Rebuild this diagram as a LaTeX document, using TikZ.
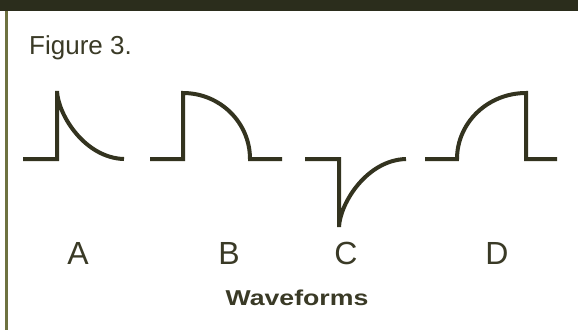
\documentclass[tikz,border=0pt]{standalone}
\usepackage{fontspec}
\setmainfont{Liberation Sans}
\definecolor{ink}{HTML}{33331F}
\definecolor{txt}{HTML}{3A3A26}
\definecolor{bar}{HTML}{2B2D1C}
\definecolor{edge}{HTML}{6E7240}
\tikzset{
  wave/.style={draw=ink, line width=4pt, line join=miter},
  letter/.style={text=txt, inner sep=0pt, anchor=base, font=\fontsize{32}{34}\selectfont},
}
\begin{document}
\begin{tikzpicture}[x=1pt,y=-1pt]
\useasboundingbox[fill=white] (0,0) rectangle (578,330);
% frame
\fill[bar] (0,0) rectangle (578,11);
\fill[edge] (5,11) rectangle (8,330);
% title
\node[text=txt, inner sep=0pt, anchor=base west, font=\fontsize{26}{28}\selectfont] (title) at (29,54) {Figure 3.};
% waveform A
\draw[wave] (23,159) -- (57,159) -- (57,91) .. controls (58,115) and (85,158) .. (124,159);
% waveform B
\draw[wave] (150,159) -- (183,159) -- (183,93) .. controls (220,93) and (250,122.5) .. (250,159) -- (282,159);
% waveform C
\draw[wave] (305,159) -- (339,159) -- (339,227) .. controls (340,203) and (367,160) .. (406,159);
% waveform D
\draw[wave] (425,159) -- (457,159) .. controls (457,122.5) and (488,93) .. (526,93) -- (526,159) -- (557,159);
% labels
\node[letter] (la) at (78,264) {A};
\node[letter] (lb) at (229,264) {B};
\node[letter] (lc) at (346,264) {C};
\node[letter] (ld) at (497,264) {D};
\node[text=txt, inner sep=0pt, anchor=base, font=\bfseries\fontsize{21.5}{24}\selectfont] (cap) at (297,305) {\scalebox{1.24}[1]{Waveforms}};
\end{tikzpicture}
\end{document}
